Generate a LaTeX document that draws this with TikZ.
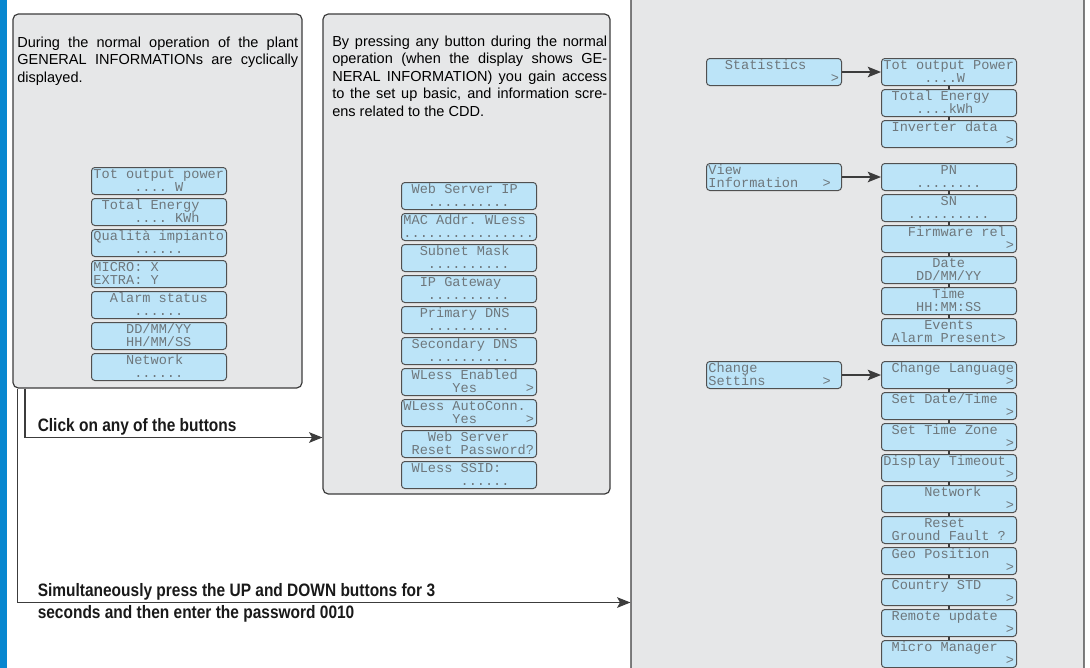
\documentclass[tikz,border=0pt]{standalone}
\usepackage{fontspec}
\setmainfont{Liberation Sans}
\newfontfamily\lcdfont[WordSpace={1,0,0}]{Liberation Mono}
\newfontfamily\narrowsans[FakeStretch=0.86]{Liberation Sans}
\usetikzlibrary{arrows.meta,calc}
\definecolor{panelgray}{HTML}{E6E7E8}
\definecolor{lcdblue}{HTML}{BCE4F8}
\definecolor{lcdtext}{HTML}{6E777C}
\definecolor{edge}{HTML}{3C3C3C}
\definecolor{stripblue}{HTML}{0787D0}
\tikzset{
  panel/.style={draw=edge, fill=panelgray, line width=0.9pt, rounded corners=4pt, inner sep=0pt},
  lcdbox/.style={draw=edge!90, fill=lcdblue, line width=0.75pt, rounded corners=2.5pt,
    minimum width=101.25pt, minimum height=20.25pt, inner sep=0pt, anchor=north west},
  lcdline/.style={anchor=base west, inner sep=0pt, text=lcdtext,
    font=\lcdfont\frenchspacing\fontsize{10.2pt}{12pt}\selectfont},
  ptext/.style={anchor=base west, inner sep=0pt, text=black,
    font=\fontsize{10.9pt}{13pt}\selectfont},
  blabel/.style={anchor=base west, inner sep=0pt, text=black!90,
    font=\narrowsans\bfseries\fontsize{13.5pt}{16pt}\selectfont},
  arrowline/.style={draw=edge, line width=1pt, -{Stealth[length=10pt,width=8pt,inset=2.2pt]}},
  colline/.style={draw=edge, line width=0.8pt},
}
\newcommand\lcd[4]{%
  \node[lcdbox] (#1) at (#2) {};
  \node[lcdline] at ($(#1.north west)+(2.2,11.5)$) {#3};
  \node[lcdline] at ($(#1.north west)+(2.2,24.5)$) {#4};
}
\begin{document}
\begin{tikzpicture}[x=0.75pt,y=-0.75pt]
\useasboundingbox (0,0) rectangle (1090,668);
% blue strip
\fill[stripblue] (0,0) rectangle (7,668);
% panels
\node[panel, minimum width=216.75pt, minimum height=280.5pt] (lp) at (157.5,201) {};
\node[panel, minimum width=215.25pt, minimum height=360pt] (mp) at (466.5,254) {};
\node[panel, minimum width=339.75pt, minimum height=511.5pt] (rp) at (857.5,335) {};
% left panel text
\node[ptext] (lt1) at (17,47) {\makebox[210.75pt][s]{During the normal operation of the plant}};
\node[ptext] (lt2) at (17,64.5) {\makebox[210.75pt][s]{GENERAL INFORMATIONs are cyclically}};
\node[ptext] (lt3) at (17,82) {displayed.};
% middle panel text
\node[ptext] (mt1) at (332,46) {\makebox[206.25pt][s]{By pressing any button during the normal}};
\node[ptext] (mt2) at (332,63.5) {\makebox[206.25pt][s]{operation (when the display shows GE-}};
\node[ptext] (mt3) at (332,81) {\makebox[206.25pt][s]{NERAL INFORMATION) you gain access}};
\node[ptext] (mt4) at (332,98.5) {\makebox[206.25pt][s]{to the set up basic, and information scre-}};
\node[ptext] (mt5) at (332,116) {ens related to the CDD.};
% left panel LCDs
\lcd{l1}{91,167}{Tot output power}{~~~~~.... W}
\lcd{l2}{91,198}{~Total Energy}{~~~~~.... KWh}
\lcd{l3}{91,229}{Qualità impianto}{~~~~~......}
\lcd{l4}{91,260}{MICRO: X}{EXTRA: Y}
\lcd{l5}{91,291}{~~Alarm status}{~~~~~......}
\lcd{l6}{91,322}{~~~~DD/MM/YY}{~~~~HH/MM/SS}
\lcd{l7}{91,353}{~~~~Network}{~~~~~......}
% middle panel LCDs
\lcd{m1}{401,182}{~Web Server IP}{~~~..........}
\lcd{m2}{401,213}{MAC Addr. WLess}{................}
\lcd{m3}{401,244}{~~Subnet Mask}{~~~..........}
\lcd{m4}{401,275}{~~IP Gateway}{~~~..........}
\lcd{m5}{401,306}{~~Primary DNS}{~~~..........}
\lcd{m6}{401,337}{~Secondary DNS}{~~~..........}
\lcd{m7}{401,368}{~WLess Enabled}{~~~~~~Yes~~~~~~>}
\lcd{m8}{401,399}{WLess AutoConn.}{~~~~~~Yes~~~~~~>}
\lcd{m9}{401,430}{~~~Web Server}{~Reset Password?}
\lcd{m10}{401,461}{~WLess SSID:}{~~~~~~~......}
% right panel menu entries
\lcd{stat}{706,58}{~~Statistics}{~~~~~~~~~~~~~~~>}
\lcd{view}{706,163}{View}{Information~~~>}
\lcd{chg}{706,361}{Change}{Settins~~~~~~~>}
% statistics column
\lcd{s1}{881,58}{Tot output Power}{~~~~~....W}
\lcd{s2}{881,89}{~Total Energy}{~~~~....kWh}
\lcd{s3}{881,120}{~Inverter data}{~~~~~~~~~~~~~~~>}
% view information column
\lcd{v1}{881,163}{~~~~~~~PN}{~~~~........}
\lcd{v2}{881,194}{~~~~~~~SN}{~~~..........}
\lcd{v3}{881,225}{~~~Firmware rel}{~~~~~~~~~~~~~~~>}
\lcd{v4}{881,256}{~~~~~~Date}{~~~~DD/MM/YY}
\lcd{v5}{881,287}{~~~~~~Time}{~~~~HH:MM:SS}
\lcd{v6}{881,318}{~~~~~Events}{~Alarm Present>}
% change settings column
\lcd{c1}{881,361}{~Change Language}{~~~~~~~~~~~~~~~>}
\lcd{c2}{881,392}{~Set Date/Time}{~~~~~~~~~~~~~~~>}
\lcd{c3}{881,423}{~Set Time Zone}{~~~~~~~~~~~~~~~>}
\lcd{c4}{881,454}{Display Timeout}{~~~~~~~~~~~~~~~>}
\lcd{c5}{881,485}{~~~~~Network}{~~~~~~~~~~~~~~~>}
\lcd{c6}{881,516}{~~~~~Reset}{~Ground Fault ?}
\lcd{c7}{881,547}{~Geo Position}{~~~~~~~~~~~~~~~>}
\lcd{c8}{881,578}{~Country STD}{~~~~~~~~~~~~~~~>}
\lcd{c9}{881,609}{~Remote update}{~~~~~~~~~~~~~~~>}
\lcd{c10}{881,640}{~Micro Manager}{~~~~~~~~~~~~~~~>}
% column links
\foreach \a/\b in {s1/s2,s2/s3,v1/v2,v2/v3,v3/v4,v4/v5,v5/v6,
  c1/c2,c2/c3,c3/c4,c4/c5,c5/c6,c6/c7,c7/c8,c8/c9,c9/c10}
  \draw[colline] (\a.south) -- (\b.north);
% menu arrows
\draw[arrowline] (stat.east) -- (s1.west);
\draw[arrowline] (view.east) -- (v1.west);
\draw[arrowline] (chg.east) -- (c1.west);
% bottom labels
\node[blabel] (click) at (37.5,431) {Click on any of the buttons};
\node[blabel] (simul) at (37.5,596) {Simultaneously press the UP and DOWN buttons for 3};
\node[blabel] (secs) at (37.5,618.5) {seconds and then enter the password 0010};
% panel connectors
\coordinate (k1) at (25,437.5);
\coordinate (k2) at (17.5,602.5);
\draw[arrowline] (lp.south -| k1) |- (mp.west |- k1);
\draw[arrowline] (lp.south -| k2) |- (rp.west |- k2);
\end{tikzpicture}
\end{document}
